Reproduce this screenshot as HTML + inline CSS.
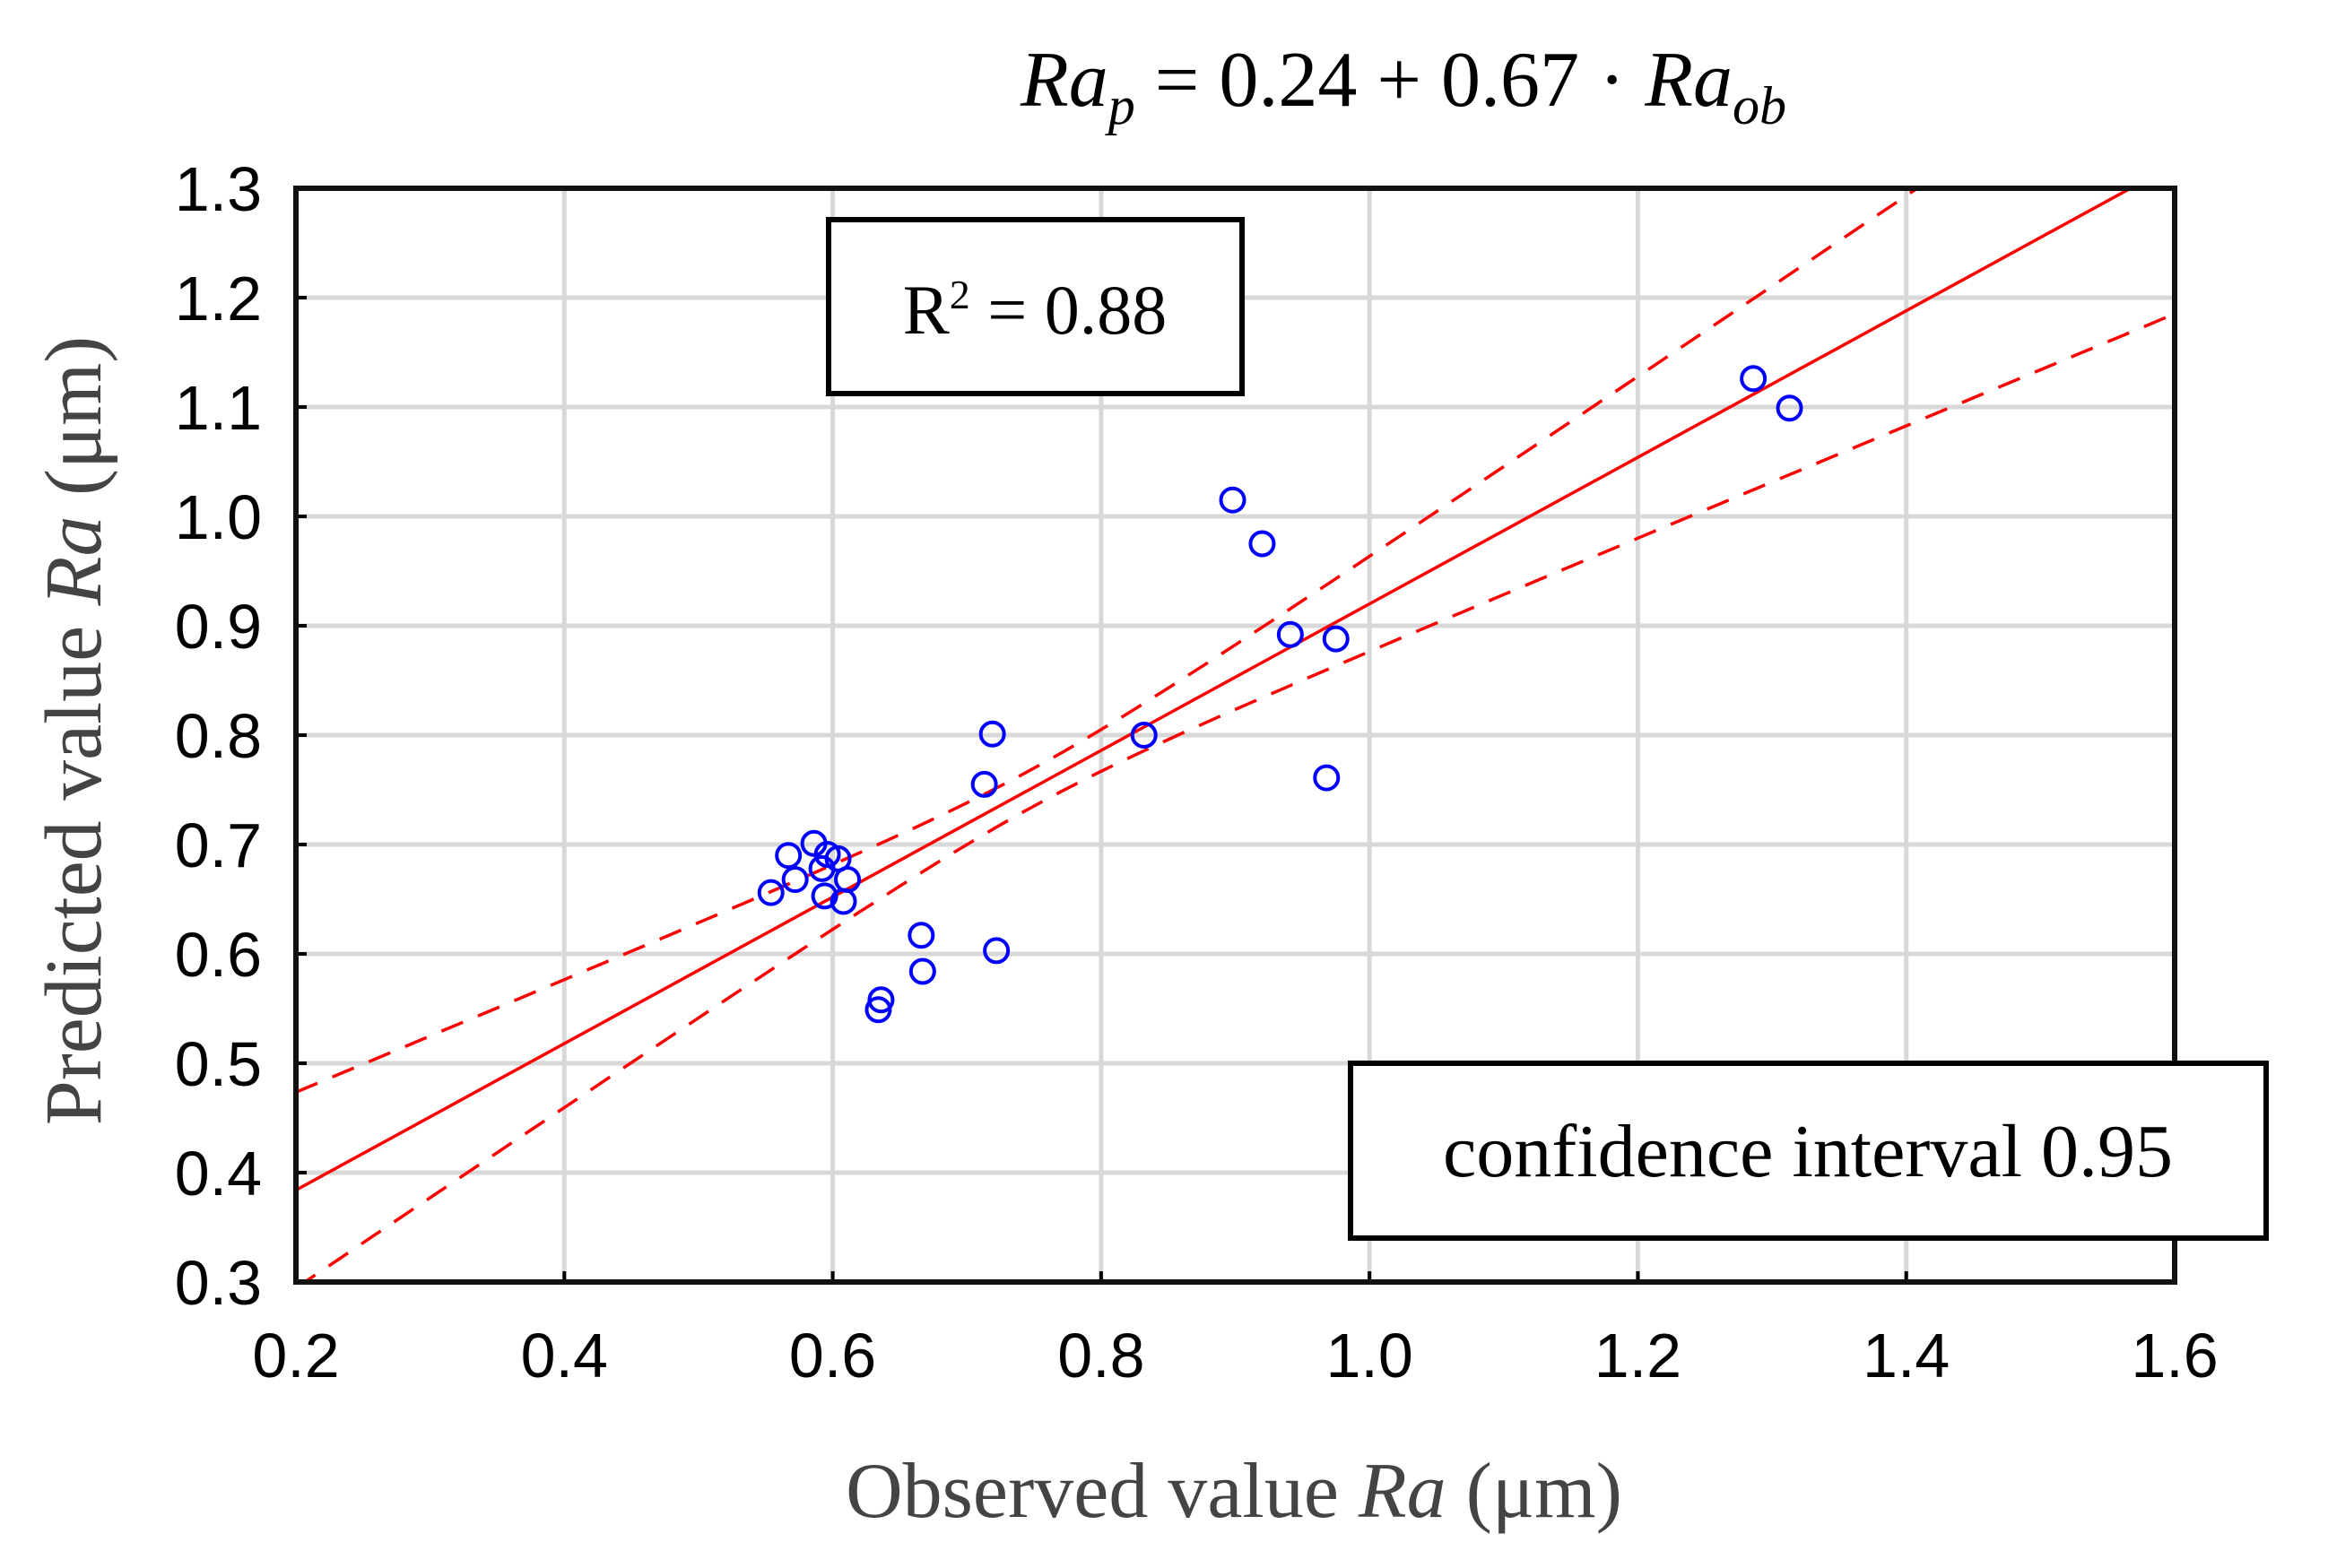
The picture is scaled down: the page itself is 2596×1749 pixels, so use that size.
<!DOCTYPE html>
<html><head><meta charset="utf-8"><style>
html,body{margin:0;padding:0;background:#fff;}
svg{display:block;}
</style></head><body>
<svg id="chart" width="2596" height="1749" viewBox="0 0 2596 1749" xmlns="http://www.w3.org/2000/svg">
<g id="grid"></g>
<g id="bands"></g>
<g id="points"></g>
<g id="axes"></g>
<text x="1565" y="118" text-anchor="middle" font-family="Liberation Serif, serif" font-style="italic" font-size="88" fill="#000">Ra<tspan font-size="60" dy="20">p</tspan><tspan dy="-20" font-style="normal">  =  0.24 + 0.67 · </tspan>Ra<tspan font-size="60" dy="20">ob</tspan></text>
<rect x="924" y="245" width="461" height="194" fill="#fff" stroke="#000" stroke-width="6"/>
<text x="1154" y="372" text-anchor="middle" font-family="Liberation Serif, serif" font-size="78" fill="#000">R<tspan font-size="46" dy="-28">2</tspan><tspan dy="28"> = 0.88</tspan></text>
<rect x="1506" y="1186" width="1021" height="195" fill="#fff" stroke="#000" stroke-width="6"/>
<text x="2016" y="1312" text-anchor="middle" font-family="Liberation Serif, serif" font-size="84" fill="#000">confidence interval 0.95</text>
<text x="1376" y="1692" text-anchor="middle" font-family="Liberation Serif, serif" font-size="88" fill="#444">Observed value <tspan font-style="italic">Ra</tspan> (μm)</text>
<text transform="translate(112,815) rotate(-90)" text-anchor="middle" font-family="Liberation Serif, serif" font-size="90" fill="#444">Predicted value <tspan font-style="italic">Ra</tspan> (μm)</text>
</svg>
<script>
const xTicks = [0.2,0.4,0.6,0.8,1.0,1.2,1.4,1.6];
const yTicks = [0.3,0.4,0.5,0.6,0.7,0.8,0.9,1.0,1.1,1.2,1.3];
const obsX = [1.286,1.313,0.898,0.920,0.941,0.975,0.968,0.832,0.719,0.713,0.722,0.666,0.667,0.636,0.634,0.554,0.567,0.572,0.586,0.596,0.604,0.594,0.608,0.611,0.592];
const predY = [1.126,1.099,1.015,0.975,0.892,0.888,0.761,0.800,0.801,0.755,0.603,0.617,0.584,0.558,0.549,0.656,0.690,0.668,0.701,0.691,0.687,0.653,0.648,0.668,0.678];
const fitIntercept = 0.25, fitSlope = 0.67;
const bandA = 0.0003, bandB = 0.0255, bandXm = 0.75;

const L=330,R=2425,T=210,B=1430;
const xs=v=>L+(v-0.2)/1.4*(R-L);
const ys=v=>B-(v-0.3)/1.0*(B-T);
const NS='http://www.w3.org/2000/svg';
function mk(tag,attrs,parent){const e=document.createElementNS(NS,tag);for(const k in attrs)e.setAttribute(k,attrs[k]);parent.appendChild(e);return e;}
const grid=document.getElementById('grid'),axes=document.getElementById('axes'),bands=document.getElementById('bands'),pts=document.getElementById('points');
mk('rect',{x:L,y:T,width:R-L,height:B-T,fill:'#fff'},grid);
xTicks.forEach((t,i)=>{
  const x=xs(t);
  if(i>0&&i<xTicks.length-1){const g=mk('line',{x1:x,y1:T,x2:x,y2:B,stroke:'#d8d8d8','stroke-width':5},grid);
  
  }
  const tk=mk('line',{x1:x,y1:B,x2:x,y2:B-12,stroke:'#000','stroke-width':4},axes);
  
  
  const tx=mk('text',{x:x,y:1536,'text-anchor':'middle','font-family':'Liberation Sans, sans-serif','font-size':70,fill:'#000'},axes);
  tx.textContent=t.toFixed(1);
  
  
});
yTicks.forEach((t,i)=>{
  const y=ys(t);
  if(i>0&&i<yTicks.length-1){const g=mk('line',{x1:L,y1:y,x2:R,y2:y,stroke:'#d8d8d8','stroke-width':5},grid);
  
  }
  const tk=mk('line',{x1:L,y1:y,x2:L+12,y2:y,stroke:'#000','stroke-width':4},axes);
  
  
  const tx=mk('text',{x:292,y:y+25,'text-anchor':'end','font-family':'Liberation Sans, sans-serif','font-size':70,fill:'#000'},axes);
  tx.textContent=t.toFixed(1);
  
  
});
const frame=mk('rect',{x:L,y:T,width:R-L,height:B-T,fill:'none',stroke:'#111','stroke-width':6},axes);


const defs=mk('defs',{},document.getElementById('chart'));
const cp=mk('clipPath',{id:'pc'},defs);mk('rect',{x:L,y:T,width:R-L,height:B-T},cp);
bands.setAttribute('clip-path','url(#pc)');
function curve(sign){let d='';for(let i=0;i<=140;i++){const x=0.2+i*0.01;const y=fitIntercept+fitSlope*x+sign*Math.sqrt(bandA+bandB*(x-bandXm)**2);d+=(i?'L':'M')+xs(x).toFixed(1)+','+ys(y).toFixed(1);}return d;}
const fit=mk('path',{d:'M'+xs(0.2)+','+ys(fitIntercept+fitSlope*0.2)+'L'+xs(1.6)+','+ys(fitIntercept+fitSlope*1.6),stroke:'#f00','stroke-width':3.5,fill:'none'},bands);


const up=mk('path',{d:curve(1),stroke:'#f00','stroke-width':3.5,fill:'none','stroke-dasharray':'26 18'},bands);


const lo=mk('path',{d:curve(-1),stroke:'#f00','stroke-width':3.5,fill:'none','stroke-dasharray':'26 18'},bands);


obsX.forEach((v,i)=>{
  const c=mk('circle',{cx:xs(v),cy:ys(predY[i]),r:13,fill:'none',stroke:'#00f','stroke-width':4},pts);
  
  
});
</script>
</body></html>
